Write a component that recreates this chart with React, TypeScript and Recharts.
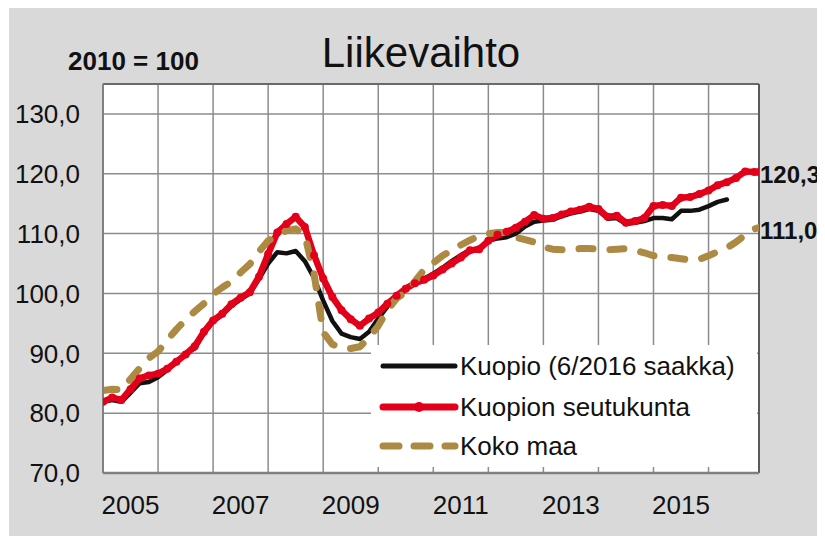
import React from 'react';
import { LineChart, Line, XAxis, YAxis, CartesianGrid, ReferenceLine, Legend, LabelList } from 'recharts';

// month index: 0 = 1/2005
const months = [0, 2, 4, 6, 8, 10, 12, 14, 16, 18, 20, 22, 24, 26, 28, 30, 32, 34, 36, 38, 40, 42, 44, 46, 48, 50, 52, 54, 56, 58, 60, 62, 64, 66, 68, 70, 72, 74, 76, 78, 80, 82, 84, 86, 88, 90, 92, 94, 96, 98, 100, 102, 104, 106, 108, 110, 112, 114, 116, 118, 120, 122, 124, 126, 128, 130, 132, 134, 136, 138, 140, 142, 143];

const kuopio = [81.9, 82.2, 81.9, 83.4, 85.0, 85.2, 86.0, 87.2, 88.6, 90.0, 90.8, 93.3, 95.3, 96.4, 97.9, 99.0, 100.0, 102.4, 105.0, 106.9, 106.7, 107.1, 105.4, 102.6, 98.8, 95.4, 93.3, 92.7, 92.4, 93.6, 95.8, 97.8, 99.6, 100.9, 101.9, 102.5, 103.3, 104.3, 105.4, 106.4, 107.3, 107.5, 108.8, 109.2, 109.4, 110.0, 111.2, 112.0, 112.2, 112.3, 112.9, 113.4, 113.7, 114.1, 113.8, 112.5, 112.6, 111.6, 111.8, 112.1, 112.6, 112.6, 112.4, 113.8, 113.8, 114.0, 114.6, 115.3, 115.7];

const seutukunta = [81.9, 82.6, 82.2, 84.0, 85.8, 86.3, 86.6, 87.4, 88.6, 89.8, 91.2, 93.6, 95.5, 96.6, 98.2, 99.3, 100.2, 102.8, 106.6, 110.2, 111.6, 112.8, 111.1, 106.4, 102.5, 99.4, 97.2, 95.7, 94.6, 95.8, 96.8, 98.3, 99.6, 100.8, 101.7, 102.3, 103.0, 104.0, 105.0, 106.0, 107.2, 107.4, 108.8, 109.8, 110.3, 111.0, 112.0, 113.1, 112.5, 112.6, 113.2, 113.7, 114.0, 114.5, 114.1, 112.8, 113.0, 111.8, 112.1, 112.6, 114.6, 114.8, 114.6, 116.0, 116.1, 116.6, 117.2, 118.1, 118.6, 119.3, 120.4, 120.3, 120.3];

const kokoMaa = [83.8, 84.0, 83.9, 85.7, 87.5, 89.2, 90.3, 92.2, 94.0, 95.6, 97.0, 98.3, 99.9, 101.0, 102.0, 103.5, 104.9, 107.0, 108.8, 109.7, 110.5, 110.8, 109.7, 103.3, 93.5, 91.5, 90.9, 90.8, 91.1, 92.6, 94.6, 97.2, 99.2, 100.2, 102.0, 104.0, 105.1, 106.3, 107.2, 108.1, 108.9, 109.6, 110.0, 110.2, 110.2, 109.4, 109.0, 108.6, 107.8, 107.4, 107.3, 107.4, 107.5, 107.5, 107.4, 107.3, 107.4, 107.5, 107.2, 106.8, 106.3, 106.2, 106.0, 105.8, 105.6, 105.7, 106.3, 107.0, 107.6, 108.6, 109.8, 110.8, 111.0];

const yearLabels = ['2005', '2007', '2009', '2011', '2013', '2015'];
const yearLabelMonths = [6, 30, 54, 78, 102, 126];
const yearBoundaryMonths = [12, 24, 36, 48, 60, 72, 84, 96, 108, 120, 132];
const yTicks = [70, 80, 90, 100, 110, 120, 130];
const seriesNames = ['Kuopio (6/2016 saakka)', 'Kuopion seutukunta', 'Koko maa'];
const title = 'Liikevaihto';
const baseLabel = '2010 = 100';

const RED = '#e2001a';
const GOLD = '#ad8a43';
const BLACK = '#111111';
const GRID = '#8c8c8c';
const FONT = '"Liberation Sans", Arial, Helvetica, sans-serif';

const data = months.map((m, i) => ({
  m,
  kuopio: kuopio[i],
  seutu: seutukunta[i],
  koko: kokoMaa[i],
}));

const fmt = (v: number) => v.toFixed(1).replace('.', ',');

const endLabel = (props: any) => {
  const { x, y, value, index } = props;
  if (index !== data.length - 1) return null;
  return (
    <text x={x + 1} y={y + 3} dy="0.35em" fontSize={24} fontWeight="bold" fill="#111" fontFamily={FONT} textAnchor="start">
      {fmt(value)}
    </text>
  );
};

const LegendBox = () => {
  const rows = [21, 62, 101];
  return (
    <div style={{ width: 386, height: 122, background: '#ffffff' }}>
      <svg width={386} height={122} style={{ display: 'block' }}>
        <line x1={12} x2={84} y1={rows[0]} y2={rows[0]} stroke={BLACK} strokeWidth={5} strokeLinecap="round" />
        <line x1={12} x2={84} y1={rows[1]} y2={rows[1]} stroke={RED} strokeWidth={7} strokeLinecap="round" />
        <circle cx={48} cy={rows[1]} r={5} fill={RED} />
        <line x1={12} x2={84} y1={rows[2]} y2={rows[2]} stroke={GOLD} strokeWidth={7} strokeLinecap="round" strokeDasharray="16 15" />
        {seriesNames.map((n, i) => (
          <text key={n} x={89} y={rows[i]} dy="0.35em" fontSize={26} fill="#111" fontFamily={FONT}>
            {n}
          </text>
        ))}
      </svg>
    </div>
  );
};

export default function App() {
  return (
    <div
      style={{
        position: 'relative',
        width: 816,
        height: 529,
        marginLeft: 1,
        marginTop: -1,
        background: '#d9d9d9',
        fontFamily: FONT,
      }}
    >
      <LineChart width={816} height={529} data={data} margin={{ top: 77, right: 66, bottom: 23, left: 34 }}>
        <CartesianGrid vertical={false} stroke={GRID} strokeWidth={1.5} fill="#ffffff" />
        {yearBoundaryMonths.map((m) => (
          <ReferenceLine key={m} x={m} stroke={GRID} strokeWidth={1.5} />
        ))}
        <ReferenceLine y={135} stroke="#6a6a6a" strokeWidth={2} />
        <ReferenceLine x={143} stroke="#5a5a5a" strokeWidth={2} />
        <XAxis
          dataKey="m"
          type="number"
          domain={[0, 143]}
          ticks={yearLabelMonths}
          tickFormatter={(v: number) => yearLabels[yearLabelMonths.indexOf(v)]}
          tickLine={false}
          tickSize={0}
          tickMargin={23}
          height={40}
          axisLine={{ stroke: '#7f7f7f', strokeWidth: 2.5 }}
          tick={{ fontSize: 26, fill: '#111', fontFamily: FONT }}
          allowDataOverflow
        />
        <YAxis
          type="number"
          domain={[70, 135]}
          ticks={yTicks}
          tickFormatter={fmt}
          tickLine={false}
          tickSize={0}
          tickMargin={23}
          width={60}
          axisLine={{ stroke: '#808080', strokeWidth: 2 }}
          tick={{ fontSize: 26, fill: '#111', fontFamily: FONT }}
          allowDataOverflow
        />
        <Line
          type="linear"
          dataKey="kuopio"
          stroke={BLACK}
          strokeWidth={4.5}
          dot={false}
          strokeLinecap="round"
          strokeLinejoin="round"
          isAnimationActive={false}
        />
        <Line
          type="linear"
          dataKey="seutu"
          stroke={RED}
          strokeWidth={6.5}
          dot={{ r: 4, fill: RED, stroke: RED, strokeWidth: 0 }}
          strokeLinejoin="round"
          isAnimationActive={false}
        >
          <LabelList dataKey="seutu" content={endLabel} />
        </Line>
        <Line
          type="linear"
          dataKey="koko"
          stroke={GOLD}
          strokeWidth={7}
          strokeDasharray="14 17"
          strokeLinecap="round"
          strokeLinejoin="round"
          dot={false}
          isAnimationActive={false}
        >
          <LabelList dataKey="koko" content={endLabel} />
        </Line>
        <Legend
          layout="horizontal"
          verticalAlign="middle"
          align="center"
          content={() => <LegendBox />}
          wrapperStyle={{ left: 362, top: 338, width: 386, height: 122 }}
        />
      </LineChart>
      <svg
        width={816}
        height={90}
        style={{ position: 'absolute', left: 0, top: 0, pointerEvents: 'none' }}
      >
        <text x={412} y={60} textAnchor="middle" fontSize={42} fill="#111" fontFamily={FONT}>
          {title}
        </text>
        <text x={59} y={63} fontSize={26} fontWeight="bold" fill="#111" fontFamily={FONT}>
          {baseLabel}
        </text>
      </svg>
    </div>
  );
}
